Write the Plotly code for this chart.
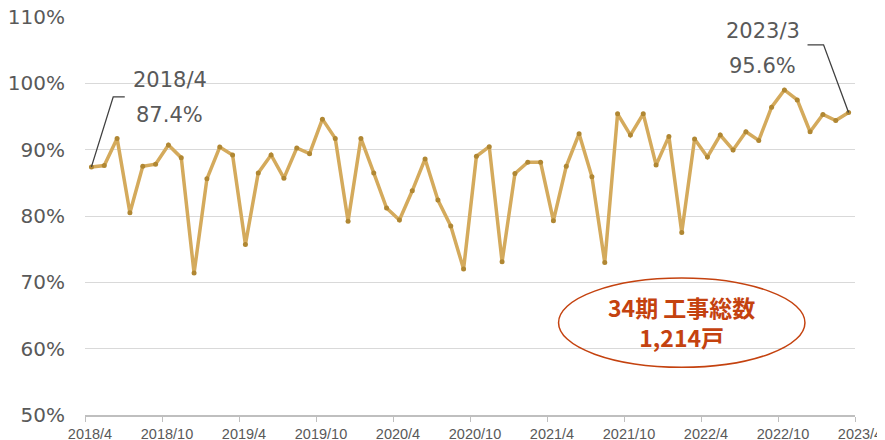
import plotly.graph_objects as go

# --- data ---
months = [f"{2018 + (3 + i) // 12}/{(3 + i) % 12 + 1}" for i in range(60)]
rates = [87.4, 87.6, 91.7, 80.5, 87.5, 87.8, 90.7, 88.8, 71.4, 85.6,
         90.4, 89.2, 75.7, 86.5, 89.2, 85.7, 90.25, 89.4, 94.6, 91.7,
         79.2, 91.7, 86.5, 81.2, 79.4, 83.8, 88.6, 82.4, 78.5, 72.0,
         89.0, 90.45, 73.1, 86.4, 88.1, 88.1, 79.3, 87.5, 92.4, 85.9,
         73.0, 95.4, 92.2, 95.4, 87.7, 92.0, 77.5, 91.6, 88.9, 92.2,
         89.95, 92.7, 91.4, 96.4, 99.0, 97.5, 92.7, 95.3, 94.4, 95.6]
tick_labels = ["2018/4", "2018/10", "2019/4", "2019/10", "2020/4", "2020/10",
               "2021/4", "2021/10", "2022/4", "2022/10", "2023/4"]
y_ticks = [50, 60, 70, 80, 90, 100, 110]
note_line1 = "34期 工事総数"
note_line2 = "1,214戸"

idx = list(range(len(rates)))
tick_pos = [i * 6 - 0.5 for i in range(len(tick_labels))]

LINE = "#D4AA5C"
MARK = "#B08733"
TXT = "#595959"
RED = "#C4420F"

fig = go.Figure()
fig.add_trace(go.Scatter(
    x=idx, y=rates, mode="lines+markers",
    line=dict(color=LINE, width=3.5),
    marker=dict(color=MARK, size=5),
    customdata=months, hovertemplate="%{customdata}: %{y:.1f}%<extra></extra>",
    showlegend=False, cliponaxis=False,
))

# page body has an 8px default margin, so the figure is sized to fit the window
fig.update_layout(
    width=877, height=432,
    margin=dict(l=77, r=30, t=9, b=25, autoexpand=False),
    paper_bgcolor="white", plot_bgcolor="white",
    font=dict(family="DejaVu Sans, Verdana, sans-serif", color=TXT),
)
fig.update_xaxes(
    range=[-0.5, 59.5], tickmode="array", tickvals=tick_pos, ticktext=tick_labels,
    ticklabelshift=5, ticks="outside", ticklen=5, tickcolor="#BFBFBF",
    showgrid=False, zeroline=False, showline=True, linecolor="#BFBFBF", linewidth=1.5,
    automargin=False, ticklabeloverflow="allow",
    tickfont=dict(family="Liberation Sans, Arial, sans-serif", size=14.5, color=TXT),
)
fig.update_yaxes(
    range=[50, 110], tickmode="array", tickvals=y_ticks,
    ticktext=[f"{v}%" for v in y_ticks],
    showgrid=True, gridcolor="#D9D9D9", gridwidth=1, zeroline=False, showline=False,
    ticks="", ticklabelstandoff=19, automargin=False, ticklabeloverflow="allow",
    tickfont=dict(family="DejaVu Sans, Verdana, sans-serif", size=20, color=TXT),
)

# leader lines
first_x, first_y = idx[0], rates[0]
last_x, last_y = idx[-1], rates[-1]
fig.add_shape(type="path", xref="x", yref="y",
              path=f"M {first_x},{first_y} L 1.7,97.95 L 2.6,97.95",
              line=dict(color="#404040", width=1.3))
fig.add_shape(type="path", xref="x", yref="y",
              path=f"M {last_x},{last_y} L 57.05,105.8 L 55.8,105.8",
              line=dict(color="#404040", width=1.3))

fig.add_annotation(x=6.15, y=100.5, xref="x", yref="y", text=months[0],
                   showarrow=False, font=dict(size=21, color=TXT))
fig.add_annotation(x=6.1, y=95.2, xref="x", yref="y", text=f"{rates[0]:.1f}%",
                   showarrow=False, font=dict(size=21, color=TXT))
fig.add_annotation(x=52.3, y=107.9, xref="x", yref="y", text=months[-1],
                   showarrow=False, font=dict(size=21, color=TXT))
fig.add_annotation(x=52.3, y=102.6, xref="x", yref="y", text=f"{rates[-1]:.1f}%",
                   showarrow=False, font=dict(size=21, color=TXT))

# ellipse note
fig.add_shape(type="circle", xref="x", yref="y", x0=36.4, x1=55.6, y0=57.2, y1=70.65,
              line=dict(color=RED, width=1.5))
fig.add_annotation(x=46.0, y=64.0, xref="x", yref="y",
                   text=f"<b>{note_line1}</b><br><b>{note_line2}</b>",
                   showarrow=False, align="center",
                   font=dict(family="Noto Sans CJK JP, sans-serif", size=23, color=RED))

fig.write_html("out.html")
